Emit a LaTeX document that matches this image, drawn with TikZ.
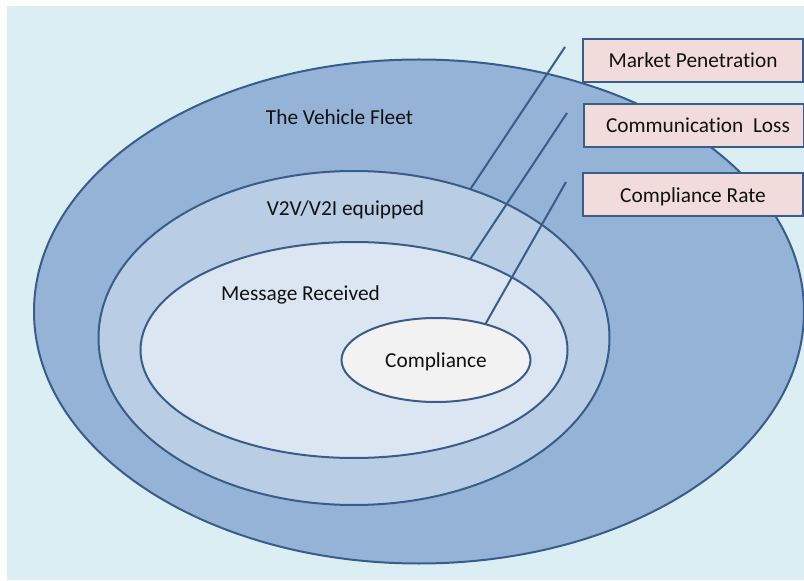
\documentclass[tikz,border=0pt]{standalone}
\usepackage{fontspec}
\setmainfont[Ligatures=NoCommon]{Carlito}
\usetikzlibrary{shapes.geometric}
\definecolor{bgblue}{HTML}{DBEEF4}
\definecolor{ringA}{HTML}{95B3D7}
\definecolor{ringB}{HTML}{B9CDE5}
\definecolor{ringC}{HTML}{DCE6F2}
\definecolor{core}{HTML}{F2F2F2}
\definecolor{edge}{HTML}{385D8A}
\definecolor{tagfill}{HTML}{F2DCDB}
\definecolor{ink}{HTML}{111111}
\tikzset{
  txt/.style={text=ink, font=\fontsize{16}{19}\selectfont, text height=1.12em, text depth=0em},
  ring/.style={ellipse, draw=edge, line width=1.5pt, inner sep=0pt, outer sep=0pt},
  lbl/.style={txt, inner sep=0pt},
  tag/.style={txt, rectangle, draw=edge, line width=1.5pt, fill=tagfill, inner sep=0pt,
              minimum width=165pt, minimum height=32.25pt},
  leader/.style={draw=edge, line width=1.5pt}
}
\begin{document}
\begin{tikzpicture}[x=0.75pt, y=-0.75pt]
  \useasboundingbox (0,0) rectangle (804,581);
  \fill[bgblue] (7,6) rectangle (804,580);

  % nested sets
  \node[ring, fill=ringA, minimum width=577.5pt, minimum height=378pt] (fleet) at (419,311.5) {};
  \node[ring, fill=ringB, minimum width=383.25pt, minimum height=250.5pt] (equipped) at (354,338) {};
  \node[ring, fill=ringC, minimum width=320.25pt, minimum height=162pt] (received) at (354,350) {};
  \node[ring, txt, fill=core, minimum width=141.75pt, minimum height=63pt] (compliance) at (436,360) {Compliance};

  % set captions
  \node[lbl] (fleetlbl) at (339.5,117) {The Vehicle Fleet};
  \node[lbl] (equippedlbl) at (345.5,208) {V2V/V2I equipped};
  \node[lbl] (receivedlbl) at (300.5,293) {Message Received};

  % factor tags
  \node[tag] (penetration) at (693,60.5) {Market Penetration};
  \node[tag] (loss) at (694,125.5) {\hspace{6pt}Communication\ \ Loss};
  \node[tag] (rate) at (693,195) {Compliance Rate};

  % leader lines from the tags down to the sets
  \coordinate (penetrationend) at (565,47);
  \coordinate (lossend) at (567,113);
  \coordinate (rateend) at (566,182);
  \draw[leader] (penetrationend) -- (equipped.52.6);
  \draw[leader] (lossend) -- (received.38.2);
  \draw[leader] (rateend) -- (compliance.36.5);
\end{tikzpicture}
\end{document}
